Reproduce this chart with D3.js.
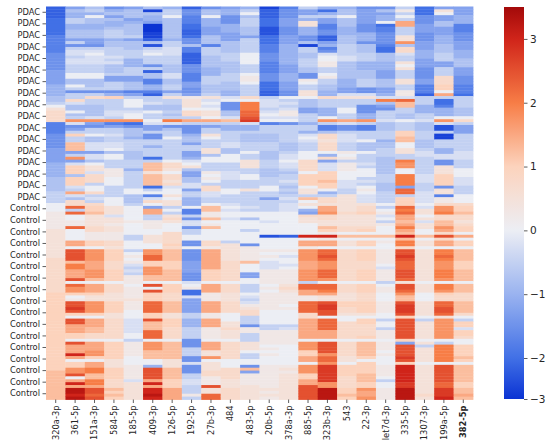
<!DOCTYPE html>
<html>
<head>
<meta charset="utf-8">
<script src="https://cdn.jsdelivr.net/npm/d3@7"></script>
<style>
  body { margin: 0; background: #fff; }
  svg text { font-family: "DejaVu Sans", sans-serif; fill: #262626; }
</style>
</head>
<body>
<svg id="chart" width="550" height="444"></svg>
<script>
// miRNA columns
let columns = ["320a-3p", "361-5p", "151a-3p", "584-5p", "185-5p", "409-3p", "126-5p",
  "192-5p", "27b-3p", "484", "483-5p", "20b-5p", "378a-3p", "885-5p", "323b-3p", "543",
  "22-3p", "let7d-3p", "335-5p", "1307-3p", "199a-5p", "382-5p"];

// one label for every 4 samples
let rowLabels = ["PDAC", "PDAC", "PDAC", "PDAC", "PDAC", "PDAC", "PDAC", "PDAC", "PDAC",
  "PDAC", "PDAC", "PDAC", "PDAC", "PDAC", "PDAC", "PDAC", "PDAC",
  "Control", "Control", "Control", "Control", "Control", "Control", "Control", "Control",
  "Control", "Control", "Control", "Control", "Control", "Control", "Control", "Control", "Control"];
let samplesPerLabel = 4;

// z-scores, one letter per sample: a = -3, each next letter +0.25 (m = 0, z = 3.25)
// spaces only split the strings into groups of 10 samples
let levelCodes = "abcdefghijklmnopqrstuvwxyz";

// PDAC samples (68), one string per column
let pdacCells = [
  "ddddeeeeee ffffffgggg gghhhhhiii ijjkmopppp ffffgggggh hhhhiiiiij jjjjkkkk",
  "hjiikkiijj jhkgkllkll kkkmmjjmkg kkpljjmjkt lghkqkkrrr hkthlqqqjq qqlksljp",
  "jkimjjiijj jhhgklmlll kkkmmjjjkg kpkkjjjjlt hgkkmjjlll hlljmoolpp pkmmpklk",
  "gijhjiijkk kijjkkklkl jjjkhhkkkg iqkkkkllkt fhkklkkllm jmmkkknnnm mmkkkkmm",
  "hjjjhijjjj khjjjkkkii ikkkhhjjjf hkmmmklmmt egjjjikkkk jjjkkkikkk kkkmmjjj",
  "jbjiihaaab bdjcklmkkk gkdjjffiif dkkljjmkkm lhhkggkkik kkekrrrorr rrekmflp",
  "ikkmjjjjjj jikklllkkk jjjlljjkkh kokkjjkjku lgjkkmkkkk kkkmppompp oplmmomo",
  "dggfffeedd eggjffdddd gggfffhhgg hnooomppks kgggijjhkk hhilmojhhj jllhkkii",
  "gjjmiiihhh jjjfkkkjjj jiiikkkjjj kolmlmooms khkkomkkko ojmmkkknmn mkppllkk",
  "hiigggiiih hhjjjjkkkj jjjkkkjjji ilmgggjjlr kiikkkkllj jmmmkkklll kkkmmkkk",
  "ikmjkkkjjj hkkkkkmmmm kkkmnnmkkk kpmuuuvvwx liikjjjkkk mkkoookkmm kkkokkkk",
  "bdddeeeccc eeefffgggf fffgggeeed dklllklmlm fkkkjjjkkk jjjkkkjjjk kkmmkkhk",
  "fggghhhggg hhhiiiiiii hhhiiihhhg gmklklnnlm gkkkkkkjjj kllmllkjkk lkjkjklk",
  "khhkiooiii ggjbkkjjkk kjjggnmkko omjjjhhkkk ikkilmlkkk mmmppppmqq qqmookrm",
  "ieikhhffgg ddhifglmmn nkkmnkkjji ipkkkiiimt kffjppoppp miphlllqqq rqqmikpp",
  "ijjmjjjiii jjjkkkkllj jjjjjiiihh lokkkmmkks lggklllkkk nmnknnnmmm lllkkooo",
  "ghhhhhgggi iigjjjkkki iijjjkkkgg lokkgggiit kffkkkmjjj mkkklkmmmk lkmnmlll",
  "gjhiimeffg gggfeejjji iihhhjjjhh ilujhgkkkl jjjkkkijjk kkjjjjjjkk kjjjkkkk",
  "knkmksskkk ootjpplkko mokkkookkn nlvrrkkjjm kkkqqrrmmo okkuttmmuu uuhvvkqq",
  "eeeggghhhg gghhhiiihh hgggghhfff dkkkiiikkl jjjkkkjjjk llkkkkkkll lkkkllll",
  "homhhjjhhh iiijjjkkkh hkkkpppqqm skeefiiimt lcckbbkkki illggoooqq qqgoofnn",
  "hhhiiifffg gghhhiiijj jhhhgggfff ekkkkjjjmp khhhkkkkkk lllkkkmmml llkkkmmm"
];

// Control samples (68), one string per column
let controlCells = [
  "mmmnnnnnno ooooooooop pppppppppp pqqqqqqqqq qqqqqqqqqq qqqqqqqqrr rrrrrrrr",
  "pvkvmmnnvm mmmssmwwww ruussswmvt tqmnwwxwqm wwsssqqmws ssysmqqttw msyszzyz",
  "pqqroooopp nnnqqmtttt ssstttrmss sqoottttqm sssrrppmss sttqmssuur ruuswwvw",
  "moooloonoo nnnppoqqqq pppqqqqmpp poooqqqqoo pppppppmqq qqqqoooqqq qppprqrq",
  "kmmmmmnmmm mkkmmmkmnm nlklknnnmn nnnonnnmmm lllllmmknn nnnmmmnnnn nloooooo",
  "mhsskknnnm mooommttvv qqtttrrmwm wqqqvvvvqq wrrrvvvmtt trrrmmiwww wsysyyzy",
  "okmkopommm ppppqprrrr qqqrrrrmqq qppprrrroo qqqppppmrr rrrrooorrr rqqqssss",
  "imffkgllgk kmmggmgggg hhhhggglmn eelhhhhhkk iiikkkkggg kkkgglgggk kllkkknk",
  "mrrnnrmnrm mmmppnssss sssqqqqmss snnnssssnn sssnnnnmss sootmooopp nnnwoovv",
  "lmlmmlmmmm mmmkoooooo pppppppmpp poooppppmm moopooompp ppppmmmppp pooopppp",
  "klkmmjmmmk mmmmgnnnnn rmmmhhmmkk kmlklnoppk kkgnnkkkoo omkkmmgrhn nnnooooo",
  "kkkmmmlmmm mcmmmmnmnm lllnnnnnmn mnnnnnnmmm mmkknnnnnm nmnmmmnnnn nnnnonon",
  "lllmmmmmmm mdmmmmnmlm mlmnnnnnop onnnnmnmmm mmklnnnnnm mmmmmmnono oooooooo",
  "omihpoommm mymssntttt sssttttkvv ssnnvvvvpp sssssssmtt tqqssmtttq qsswwwww",
  "osstppoorq nynssmvvwv tttvvvtmvv usoowxxwwm vvvvsssmww wwtvvtxxxx xxttzzzz",
  "ooopoooopp mrmoompppp pppppppmpp poooqqppom mppppppmpp pppoomqqqq ppppqqrq",
  "oppqoooopq mrmqqmqqqq pppqqqqmqq qpppqqqqom qqppppqmrr rrrqmqqqqr rrqqtsst",
  "mkmnlmknmm mrmnmmnnnn nmlnnnnkmn nmmmnnnnmm kmmknnnmnn nmnmmmnnnn mkmmnnnn",
  "qvuvssrsus ryruupwwxw vvvwwwvoww vtrrwxxxwq wwwwwwwqhw wwwxwqyyyy yyxxzzzz",
  "mloomoloom mrmoomoooo ooooooomoo ommmooooom koooooomok ooooomoooo oooooopo",
  "pttupprrts pwpssmuuvu tttuuutmuu tqppvvwwvo tttttttmku uuuuumwwww wwvvxxxy",
  "pqqrppopqq msmqqmrrrr qqqrrrrmrr rppprrrrpm kqqlqqpmmq qqqrqmrrrr rrqqrrsr"
];

// colour stops
let cmapValues = [-3, -2, -1, 0, 1, 2, 3, 3.5];
let cmapColors = ["#0b33d3", "#4170e6", "#9ab3f0", "#eceef4", "#fcd3bd", "#f77d46", "#d0241a", "#a30a0a"];
let colorTicks = [3, 2, 1, 0, -1, -2, -3];

let svg = d3.select("#chart");
let plotLeft = 46, plotRight = 473, plotTop = 6.5, plotBottom = 399.5;
let nRows = rowLabels.length * samplesPerLabel;

let color = d3.scaleLinear().domain(cmapValues).range(cmapColors).clamp(true);
let x = d3.scaleBand().domain(columns).range([plotLeft, plotRight]);
let y = d3.scaleBand().domain(d3.range(nRows)).range([plotTop, plotBottom]);

// decode cells
let cells = [];
columns.forEach((col, ci) => {
  let s = (pdacCells[ci] + controlCells[ci]).replace(/ /g, "");
  for (let r = 0; r < nRows; r++) {
    let k = levelCodes.indexOf(s.charAt(r));
    if (k < 0) continue;
    cells.push({ col, row: r, value: -3 + 0.25 * k });
  }
});

svg.append("g")
  .selectAll("rect")
  .data(cells)
  .enter().append("rect")
  .attr("x", d => x(d.col))
  .attr("y", d => y(d.row))
  .attr("width", x.bandwidth() + 0.4)
  .attr("height", y.bandwidth() + 0.4)
  .attr("fill", d => color(d.value));

// y axis: label every 4 samples, centred on its group
let yLab = d3.scaleBand().domain(d3.range(rowLabels.length)).range([plotTop, plotBottom]);
let yAxis = svg.append("g")
  .attr("transform", `translate(${plotLeft},0)`)
  .call(d3.axisLeft(yLab).tickSize(3.5).tickPadding(2.5).tickFormat(i => rowLabels[i]));
yAxis.select(".domain").remove();
yAxis.selectAll("line").attr("stroke", "#333").attr("stroke-width", 0.8);
yAxis.selectAll("text").style("font-size", "8.3px");

// x axis
let xAxis = svg.append("g")
  .attr("transform", `translate(0,${plotBottom})`)
  .call(d3.axisBottom(x).tickSize(3.5).tickPadding(2.5));
xAxis.select(".domain").remove();
xAxis.selectAll("line").attr("stroke", "#333").attr("stroke-width", 0.8);
xAxis.selectAll("text")
  .style("font-size", "8.3px")
  .attr("transform", "rotate(-90)")
  .attr("text-anchor", "end")
  .attr("x", -6)
  .attr("y", 0)
  .attr("dy", "0.35em")
  .style("font-weight", d => d === "382-5p" ? "bold" : null);

// colour bar
let cbLeft = 504, cbWidth = 20;
let cbY = d3.scaleLinear().domain([-3, -2, 3.5]).range([399, 358, 7]);
let grad = svg.append("defs").append("linearGradient")
  .attr("id", "cbar")
  .attr("x1", 0).attr("y1", 1).attr("x2", 0).attr("y2", 0);
d3.range(-3, 3.51, 0.1).forEach(v => {
  grad.append("stop")
    .attr("offset", (399 - cbY(v)) / (399 - 7))
    .attr("stop-color", color(v));
});
svg.append("rect")
  .attr("x", cbLeft).attr("y", 7)
  .attr("width", cbWidth).attr("height", 392)
  .attr("fill", "url(#cbar)");

let cAxis = svg.append("g")
  .attr("transform", `translate(${cbLeft + cbWidth},0)`)
  .call(d3.axisRight(cbY).tickValues(colorTicks).tickSize(3.5).tickPadding(2.5)
    .tickFormat(d => d < 0 ? "\u2212" + Math.abs(d) : d));
cAxis.select(".domain").remove();
cAxis.selectAll("line").attr("stroke", "#333").attr("stroke-width", 0.8);
cAxis.selectAll("text").style("font-size", "10.5px");
</script>
</body>
</html>
